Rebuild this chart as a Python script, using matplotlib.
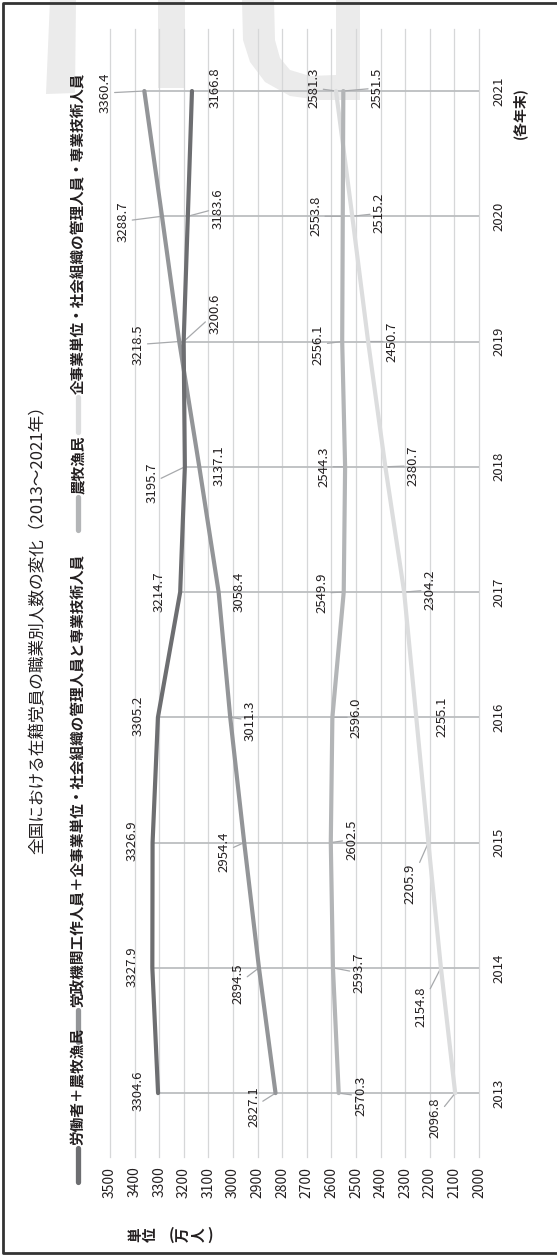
import matplotlib
matplotlib.use("Agg")
import matplotlib.pyplot as plt
from matplotlib.patches import Polygon

plt.rcParams['font.family'] = ['Noto Sans CJK JP', 'DejaVu Sans']

# data
years = [2013, 2014, 2015, 2016, 2017, 2018, 2019, 2020, 2021]
workers_farmers = [3304.6, 3327.9, 3326.9, 3305.2, 3214.7, 3195.7, 3200.6, 3183.6, 3166.8]
officials_plus_mgmt = [2827.1, 2894.5, 2954.4, 3011.3, 3058.4, 3137.1, 3218.5, 3288.7, 3360.4]
farmers = [2570.3, 2593.7, 2602.5, 2596.0, 2549.9, 2544.3, 2556.1, 2553.8, 2551.5]
mgmt_tech = [2096.8, 2154.8, 2205.9, 2255.1, 2304.2, 2380.7, 2450.7, 2515.2, 2581.3]
value_ticks = list(range(2000, 3501, 100))

names = ['労働者＋農牧漁民',
         '党政機関工作人員＋企事業単位・社会組織の管理人員と専業技術人員',
         '農牧漁民',
         '企事業単位・社会組織の管理人員・専業技術人員']
title = '全国における在籍党員の職業別人数の変化（2013〜2021年）'

W, H = 557, 1256
TXT = '#231f20'
colors = ['#6d6e71', '#939598', '#b3b5b7', '#dcddde']
series = [workers_farmers, officials_plus_mgmt, farmers, mgmt_tech]

# label offsets (pixels, image direction: +x right, +y down), 1 = leader line
offsets = [
    [(-20, -2, 0), (-20, -1, 0), (-20, -2, 0), (-20, -2, 0), (-21, 0, 0),
     (-33, 16, 1), (31, -28, 1), (30, -8, 1), (23, -3, 0)],
    [(-22, 14, 1), (-21, 16, 1), (-20, 9, 1), (20, 3, 1), (21, 0, 0),
     (20, -1, 0), (-41, 3, 1), (-39, 5, 1), (-39, 2, 1)],
    [(22, 3, 1), (26, 5, 1), (21, -3, 1), (24, 0, 1), (-22, 1, 1),
     (-21, 0, 1), (-24, 3, 1), (-27, 0, 1), (34, -3, 1)],
    [(-20, 25, 1), (-20, 39, 1), (-18, 41, 1), (26, -1, 0), (26, -2, 1),
     (28, -1, 1), (24, 0, 1), (27, -3, 1), (-22, -3, 1)],
]

fig = plt.figure(figsize=(W / 100, H / 100), dpi=100)

# background layer in image pixel coordinates
bg = fig.add_axes([0, 0, 1, 1])
bg.set_xlim(0, W)
bg.set_ylim(H, 0)
bg.axis('off')
bg.set_zorder(0)

wm = '#ebebeb'
bg.add_patch(Polygon([(50, 0), (76, 0), (75, 93), (46, 94)], color=wm, lw=0))
bg.add_patch(Polygon([(158, 0), (185, 0), (185, 88), (158, 88)], color=wm, lw=0))
bg.add_patch(Polygon([(242, 0), (243, 40), (250, 62), (265, 82), (290, 96), (320, 100),
                      (360, 100), (360, 0), (336, 0), (336, 75), (310, 76), (290, 70),
                      (280, 58), (275, 40), (274, 0)], color=wm, lw=0))
# frame: left, top, bottom
bg.plot([W, 3, 3, W], [3, 3, 1253, 1253], color='#333333', lw=2)

bg.text(38, 626, title, rotation=90, ha='center', va='center', fontsize=12, color=TXT)

# legend, drawn rotated
leg_marks = [(1182, 1148), (1042, 1010), (530, 497), (432, 397)]
for (y0, y1), c, name in zip(leg_marks, colors, names):
    bg.plot([78, 78], [y0, y1], color=c, lw=3.8, solid_capstyle='round')
    bg.text(78, y1 - 3, name, rotation=90, ha='center', va='bottom',
            fontsize=10.5, fontweight='bold', color=TXT)

# unit label (stacked characters)
for ch, x in zip('単位(万人)', [135, 150, 171, 183, 198, 210]):
    rot = 0 if ch in '()' else 90
    bg.text(x, 1235, ch, rotation=rot, ha='center', va='center',
            fontsize=10.5, fontweight='bold', color=TXT)
bg.text(520, 113, '(各年末)', rotation=90, ha='center', va='center',
        fontsize=10, fontweight='bold', color=TXT)

# main chart
ax = fig.add_axes([110 / W, 1 - 1157 / H, 369 / W, 1128 / H])
ax.set_zorder(1)
ax.patch.set_visible(False)
ax.set_xlim(3500, 2000)
ax.set_ylim(2012.49, 2021.495)
for s in ax.spines.values():
    s.set_visible(False)

for v in value_ticks:
    ax.axvline(v, color='#d6d7d8', lw=0.9, zorder=1, clip_on=False)

tops = [max(vals) for vals in zip(*series)]
ax.hlines(years, tops, 2000, color='#bcbec0', lw=1.3, zorder=2)

for vals, c in reversed(list(zip(series, colors))):
    ax.plot(vals, years, color=c, lw=3.0, solid_capstyle='round', zorder=4)

for vals, offs in zip(series, offsets):
    for v, yr, (dx, dy, lead) in zip(vals, years, offs):
        props = dict(arrowstyle='-', color='#a7a9ac', lw=0.9, shrinkA=0, shrinkB=0) if lead else None
        ax.annotate(f'{v:.1f}', xy=(v, yr), xytext=(dx, -dy), textcoords='offset pixels',
                    rotation=90, ha='center', va='center', fontsize=9.5, color=TXT,
                    arrowprops=props, zorder=3)

ax.set_xticks(value_ticks)
ax.set_xticklabels([str(v) for v in value_ticks], rotation=90, color=TXT, fontsize=10)
ax.tick_params(axis='x', length=0, pad=7)
ax.yaxis.tick_right()
ax.set_yticks(years)
ax.set_yticklabels([str(y) for y in years], rotation=90, va='center', color=TXT, fontsize=9.5)
ax.tick_params(axis='y', length=0, pad=10)

fig.savefig('out.png', dpi=100)
